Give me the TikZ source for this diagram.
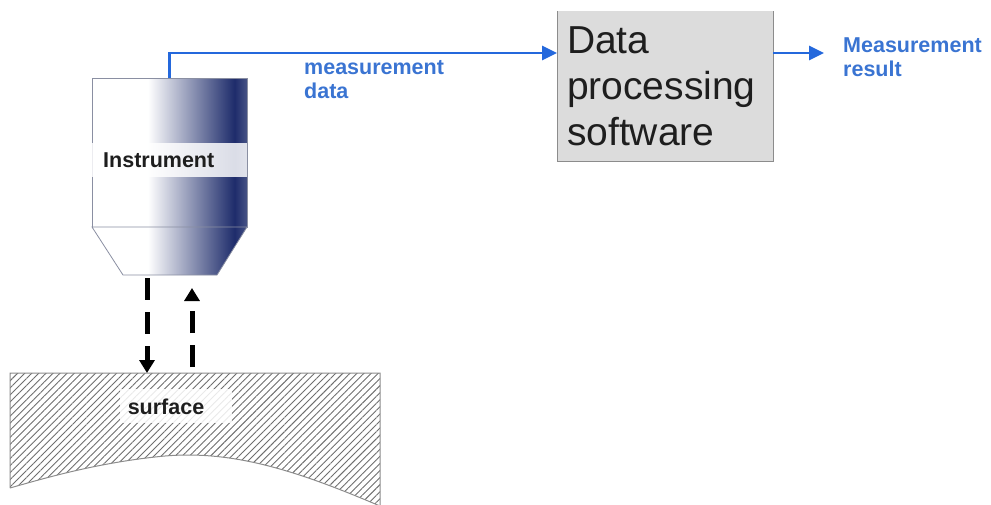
\documentclass[tikz,border=0pt]{standalone}
\usepackage{fontspec}
\setmainfont{Liberation Sans}
\usetikzlibrary{arrows.meta,patterns.meta}

\definecolor{navyend}{HTML}{1E2C6B}
\definecolor{flowblue}{HTML}{2468DC}
\definecolor{labelblue}{HTML}{3A74D2}
\definecolor{boxgray}{HTML}{DCDCDC}
\definecolor{edgegray}{HTML}{8C8C8C}
\definecolor{instredge}{HTML}{8A8FA2}
\definecolor{hatchgray}{HTML}{6E6E6E}
\definecolor{inkdark}{HTML}{1E1E1E}

% white on the left, deepening to navy towards the right edge
\pgfdeclarehorizontalshading{instrshade}{100bp}{%
  color(0bp)=(white); color(43bp)=(white); color(71bp)=(navyend);
  color(75bp)=(navyend!82!white); color(100bp)=(navyend!82!white)}

\tikzset{
  instrpart/.style={draw=instredge, line width=0.8pt, shading=instrshade},
  flow/.style={draw=flowblue, line width=2.6pt, -{Triangle[width=14pt,length=15pt]}},
  bluelabel/.style={text=labelblue, font=\bfseries\fontsize{21.5}{24}\selectfont, align=left, inner sep=0pt},
  darklabel/.style={text=inkdark, font=\bfseries\fontsize{21.5}{24}\selectfont, inner sep=0pt},
  beam/.style={draw=black, line width=5pt, dash pattern=on 22pt off 12pt,
    -{Triangle[width=15pt,length=13pt]}},
  dpsbox/.style={fill=boxgray, minimum width=216pt, minimum height=150pt,
    inner sep=0pt, outer sep=0pt, text width=196pt, align=left, text=inkdark,
    font=\fontsize{39}{46}\selectfont}
}

\begin{document}
\begin{tikzpicture}[x=1pt, y=-1pt]
\useasboundingbox (0,0) rectangle (991,504);

% ---- instrument: body and tapered nose ----
\node[instrpart, minimum width=155pt, minimum height=149pt, inner sep=0pt, outer sep=0pt]
  (instr) at (169.5,152.5) {};
\path[instrpart] (instr.south west) -- (instr.south east) -- (217,275) -- (123,275) -- cycle;
\fill[white, opacity=0.84] (92,143) rectangle (247,177);
\node[darklabel, anchor=west] (instrlabel) at (103,160) {Instrument};

% ---- processing box (open at the top) ----
\node[dpsbox] (dps) at (665,86) {Data\\processing\\software};
\draw[edgegray, line width=1pt] (dps.north west) -- (dps.south west) -- (dps.south east) -- (dps.north east);

% ---- data flow ----
\coordinate (lvl) at (0,53);
\draw[flow] (instr.north) |- (dps.west |- lvl);
\node[bluelabel, anchor=west] (mdata) at (304,80) {measurement\\data};
\coordinate (res) at (824,53);
\draw[flow] (dps.east |- lvl) -- (res);
\node[bluelabel, anchor=west] (mresult) at (843,57) {Measurement\\result};

% ---- measured surface ----
\path[pattern={Lines[angle=45, distance=5pt, line width=0.9pt]}, pattern color=hatchgray]
  (10,373) -- (380,373) -- (380,506)
  .. controls (300,472) and (235,450) .. (165,456)
  .. controls (100,462) and (45,478) .. (10,488) -- cycle;
\draw[edgegray, line width=1pt]
  (10,488) -- (10,373) -- (380,373) -- (380,506)
  (380,506) .. controls (300,472) and (235,450) .. (165,456)
  .. controls (100,462) and (45,478) .. (10,488);
\coordinate (surftop) at (0,373);
\fill[white, opacity=0.85] (120,389) rectangle (232,423);
\node[darklabel] (surflabel) at (166,407) {surface};

% ---- probing beams ----
\coordinate (beamdown) at (147,278);
\coordinate (beamup) at (192,367);
\coordinate (probe) at (0,288);
\draw[beam] (beamdown) -- (beamdown |- surftop);
\draw[beam] (beamup) -- (beamup |- probe);
\end{tikzpicture}
\end{document}
